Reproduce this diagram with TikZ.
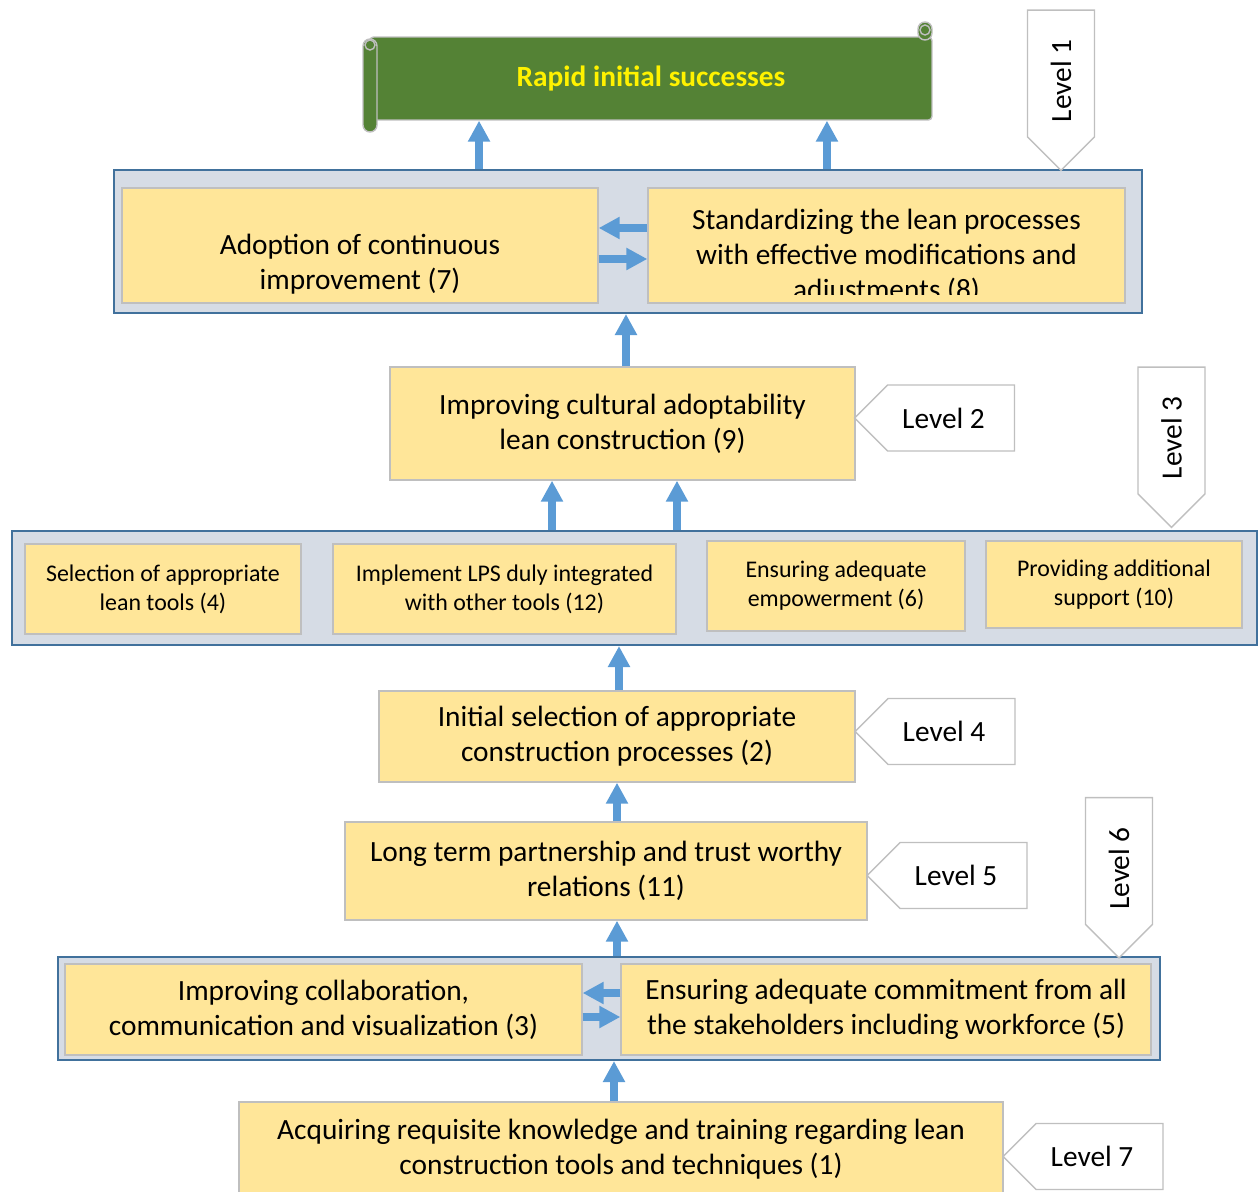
\documentclass[tikz,border=0pt]{standalone}
\usepackage{fontspec}
\setmainfont{Carlito}
\usetikzlibrary{arrows.meta,shapes.symbols}
\definecolor{boxyel}{HTML}{FFE699}
\definecolor{boxgray}{HTML}{BFBFBF}
\definecolor{grpfill}{HTML}{D6DCE5}
\definecolor{grpblue}{HTML}{41719C}
\definecolor{arrblue}{HTML}{5B9BD5}
\definecolor{scrollgreen}{HTML}{548235}
\tikzset{
  grp/.style={draw=grpblue,fill=grpfill,line width=1.2pt,inner sep=0pt},
  ybox/.style={draw=boxgray,fill=boxyel,line width=0.8pt,align=center,inner sep=0pt,font=\fontsize{16.7}{20}\selectfont},
  sbox/.style={ybox,font=\fontsize{13.6}{16.5}\selectfont},
  lvl/.style={shape=signal,draw=boxgray,fill=white,line width=0.8pt,signal pointer angle=90,inner sep=0pt,font=\fontsize{16.7}{20}\selectfont},
  uparr/.style={draw=arrblue,line width=0.15cm,-{Triangle[width=0.42cm,length=0.42cm]}}
}
\begin{document}
\begin{tikzpicture}[x=0.02cm,y=-0.02cm]
\useasboundingbox (0,0) rectangle (1258,1192);
% banner
\node[draw=boxgray,fill=scrollgreen,line width=0.8pt,rounded corners=2pt,minimum width=11.24cm,minimum height=1.66cm,text=yellow,font=\bfseries\fontsize{16.7}{20}\selectfont] (banner) at (651,78.5) {\raisebox{-0.05cm}{Rapid initial successes}};
\draw[draw=boxgray,fill=scrollgreen,line width=0.8pt,rounded corners=0.14cm] (363,132) rectangle (377,39);
\draw[draw=boxgray,line width=0.8pt] (370,45) circle[radius=0.1cm];
\draw[draw=boxgray,fill=scrollgreen,line width=0.8pt,rounded corners=0.14cm] (918,40) rectangle (932,22);
\draw[draw=boxgray,line width=0.8pt] (925,30) circle[radius=0.1cm];
% groups
\node[grp,minimum width=20.56cm,minimum height=2.86cm] (g1) at (628,241.5) {};
\node[grp,minimum width=24.9cm,minimum height=2.28cm] (g3) at (634.5,588) {};
\node[grp,minimum width=22.04cm,minimum height=2.06cm] (g6) at (609,1008.5) {};
% level 1 boxes
\node[ybox,minimum width=9.52cm,minimum height=2.3cm] (b7) at (360,245.5) {};
\node[ybox,minimum width=9.54cm,minimum height=2.3cm] (b8) at (886.5,245.5) {};
\node[align=center,font=\fontsize{16.7}{20}\selectfont] (t7) at (360,264) {Adoption of continuous\\improvement (7)};
\begin{scope}
\clip (b8.north west) rectangle ([yshift=0.18cm]b8.south east);
\node[align=center,font=\fontsize{16.7}{20}\selectfont] (t8) at (886.5,257) {Standardizing the lean processes\\with effective modifications and\\adjustments (8)};
\end{scope}
% other boxes
\node[ybox,minimum width=9.3cm,minimum height=2.26cm] (b9) at (622.5,423.5) {Improving cultural adoptability\\lean construction (9)};
\node[sbox,minimum width=5.52cm,minimum height=1.8cm] (b4) at (163,589) {Selection of appropriate\\lean tools (4)};
\node[sbox,minimum width=6.86cm,minimum height=1.8cm] (b12) at (504.5,589) {Implement LPS duly integrated\\with other tools (12)};
\node[sbox,minimum width=5.16cm,minimum height=1.8cm] (b6) at (836,586) {Ensuring adequate\\empowerment (6)};
\node[sbox,minimum width=5.12cm,minimum height=1.74cm] (b10) at (1114,584.5) {Providing additional\\support (10)};
\node[ybox,minimum width=9.52cm,minimum height=1.82cm] (b2) at (617,736.5) {Initial selection of appropriate\\construction processes (2)};
\node[ybox,minimum width=10.44cm,minimum height=1.96cm] (b11) at (606,871) {Long term partnership and trust worthy\\relations (11)};
\node[ybox,minimum width=10.34cm,minimum height=1.82cm] (b3) at (323.5,1009.5) {Improving collaboration,\\communication and visualization (3)};
\node[ybox,minimum width=10.6cm,minimum height=1.82cm] (b5) at (886,1009.5) {Ensuring adequate commitment from all\\the stakeholders including workforce (5)};
\node[ybox,minimum width=15.28cm,minimum height=1.9cm] (b1) at (621,1149.5) {Acquiring requisite knowledge and training regarding lean\\construction tools and techniques (1)};
% level markers
\foreach \n/\x/\y in {2/951/418,4/951.5/731.5,5/963.5/875.5,7/1099.5/1156.5}{\node[lvl,signal to=west,minimum width=3.2cm,minimum height=1.32cm] (lv\n) at (\x,\y) {\hspace*{-0.3cm}Level \n};}
\foreach \n/\x/\y in {1/1061/73.5,3/1171.5/430.5,6/1119/861}{\node[lvl,signal to=south,minimum width=1.34cm,minimum height=2.74cm] (lv\n) at (\x,\y) {\rotatebox{90}{Level \n\hspace*{0.3cm}}};}
% arrows
\draw[uparr] ([xshift=-2.98cm]g1.north) -- ([xshift=-2.98cm]g1.north |- banner.south);
\draw[uparr] ([xshift=3.98cm]g1.north) -- ([xshift=3.98cm]g1.north |- banner.south);
\draw[uparr] ([yshift=0.35cm]b8.west) -- ([yshift=0.35cm]b8.west -| b7.east);
\draw[uparr] ([yshift=-0.27cm]b7.east) -- ([yshift=-0.27cm]b7.east -| b8.west);
\draw[uparr] ([xshift=0.07cm]b9.north) -- ([xshift=0.07cm]b9.north |- g1.south);
\draw[uparr] ([xshift=-1.65cm]g3.north) -- ([xshift=-1.65cm]g3.north |- b9.south);
\draw[uparr] ([xshift=0.85cm]g3.north) -- ([xshift=0.85cm]g3.north |- b9.south);
\draw[uparr] ([xshift=0.04cm]b2.north) -- ([xshift=0.04cm]b2.north |- g3.south);
\draw[uparr] (b2.south |- b11.north) -- (b2.south);
\draw[uparr] ([xshift=0.16cm]g6.north) -- ([xshift=0.16cm]g6.north |- b11.south);
\draw[uparr] ([yshift=0.33cm]b5.west) -- ([yshift=0.33cm]b5.west -| b3.east);
\draw[uparr] ([yshift=-0.15cm]b3.east) -- ([yshift=-0.15cm]b3.east -| b5.west);
\draw[uparr] ([xshift=-0.14cm]b1.north) -- ([xshift=-0.14cm]b1.north |- g6.south);
\end{tikzpicture}
\end{document}
